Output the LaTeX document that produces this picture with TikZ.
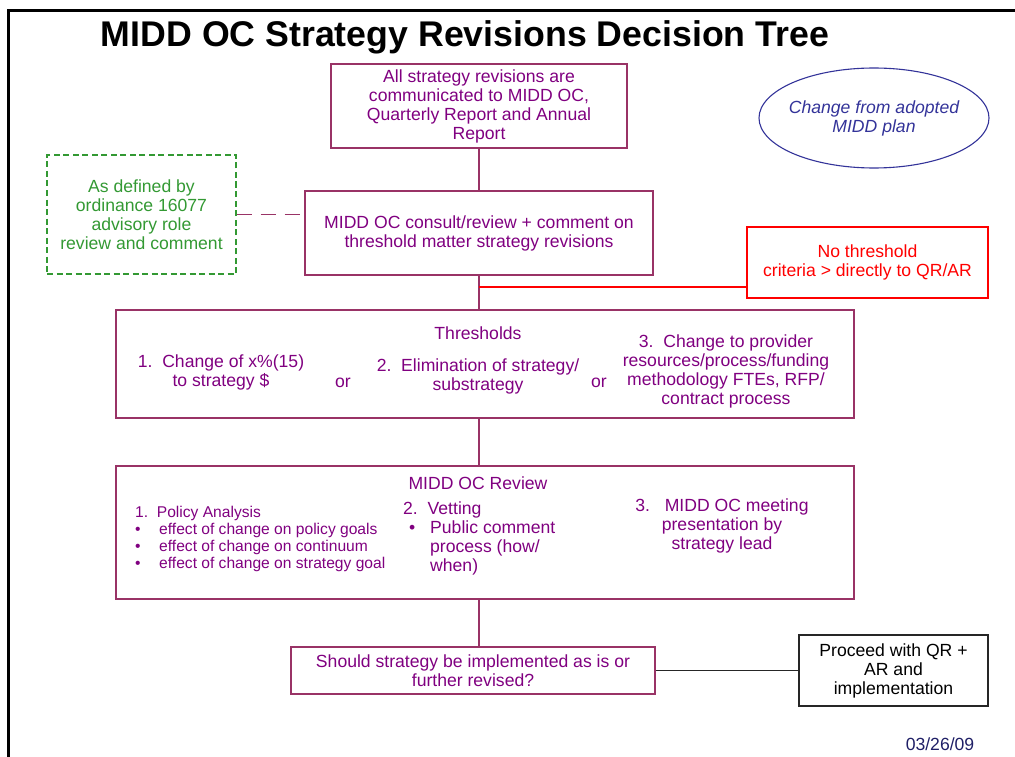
\documentclass[tikz,border=0pt]{standalone}
\usepackage{fontspec}
\setmainfont{Liberation Sans}
\usepackage{tikz}
\usetikzlibrary{positioning, shapes.geometric}
\definecolor{plum}{HTML}{993366}
\definecolor{purp}{HTML}{800080}
\definecolor{grn}{HTML}{339933}
\definecolor{navy}{HTML}{333399}
\definecolor{datecol}{HTML}{1F1F66}
\tikzset{% 
	link/.style = {draw = plum, line width = 1.3pt},
	box/.style = {name = #1, draw = plum, line width = 1.3pt, text = purp, align = center, inner sep = 3pt},
	redbox/.style = {name = #1, draw = red, line width = 1.3pt, text = red, align = center, inner sep = 3pt},
	dashbox/.style = {name = #1, draw = grn, dash pattern = on 6pt off 3.5pt, line width = 1.3pt, text = grn, align = center, inner sep = 3pt},
	blackbox/.style = {name = #1, draw = black!85, line width = 1.3pt, text = black, align = center, inner sep = 3pt},
	oval/.style = {name = #1, ellipse, draw = navy, line width = 1.1pt, text = navy, align = center, inner xsep = -5pt, inner ysep = 0pt},
	note/.style = {name = #1, text = purp, align = center, inner sep = 0pt},
	small/.style = {font = \fontsize{15.6}{17}\selectfont}
}

\begin{document}
\begin{tikzpicture}[x=1pt, y=-1pt, font=\fontsize{17.6}{19}\selectfont]
			\useasboundingbox (0,0) rectangle (1015,757);
			\draw [line width = 3pt] (8,757) -- (8,11) -- (1015,11);
			\node [name = title, font = \fontsize{35.7}{40}\selectfont\bfseries] at (465,37) {MIDD OC Strategy Revisions Decision Tree};
			% upper part
			\node [box = {rev}, minimum width = 296pt, minimum height = 84pt] at (479,106) {All strategy revisions are\\communicated to MIDD OC,\\Quarterly Report and Annual\\Report};
			\node [oval = {plan}, minimum width = 230pt, minimum height = 100pt] at (874,118) {\itshape Change from adopted\\\itshape MIDD plan};
			\node [dashbox = {role}, minimum width = 189pt, minimum height = 119pt] at (141.5,214.5) {As defined by\\ordinance 16077\\advisory role\\review and comment};
			\node [box = {consult}, minimum width = 348pt, minimum height = 84pt] at (479,233) {MIDD OC consult/review + comment on\\threshold matter strategy revisions};
			\node [redbox = {direct}, minimum width = 241pt, minimum height = 71pt] at (867.5,262.5) {No threshold\\criteria > directly to QR/AR};
			\coordinate (fork) at (479,287);
			% thresholds
			\node [box = {thr}, minimum width = 738pt, minimum height = 108pt] at (485,364) {};
			\node [note = {thrhead}] at (478,333) {Thresholds};
			\node [note = {thr1}] at (221,372.5) {1.\ \ Change of x\%(15)\\to strategy \$};
			\node [note = {or1}] at (343,383) {or};
			\node [note = {thr2}] at (478,376.5) {2.\ \ Elimination of strategy/\\substrategy};
			\node [note = {or2}] at (599,383) {or};
			\node [note = {thr3}] at (726,371.5) {3.\ \ Change to provider\\resources/process/funding\\methodology FTEs, RFP/\\contract process};
			% review
			\node [box = {rvw}, minimum width = 738pt, minimum height = 133pt] at (485,532.5) {};
			\node [note = {rvwhead}] at (478,483) {MIDD OC Review};
			\node [note = {rvw1}, small, align = left, anchor = west] at (135,539) {1.\ \ Policy Analysis\\\makebox[24pt][l]{\textbullet}effect of change on policy goals\\\makebox[24pt][l]{\textbullet}effect of change on continuum\\\makebox[24pt][l]{\textbullet}effect of change on strategy goal};
			\node [note = {rvw2}, align = left, anchor = west] at (403,538.5) {2.\ \ Vetting\\\makebox[27pt][l]{\hspace{6pt}\textbullet}Public comment\\\hspace*{27pt}process (how/\\\hspace*{27pt}when)};
			\node [note = {rvw3}] at (722,526) {3.\ \ \ MIDD OC meeting\\presentation by\\strategy lead};
			% bottom
			\node [box = {dec}, minimum width = 364pt, minimum height = 47pt] at (473,670.5) {Should strategy be implemented as is or\\further revised?};
			\node [blackbox = {go}, minimum width = 189pt, minimum height = 71pt] at (893.5,670.5) {Proceed with QR +\\AR and\\implementation};
			\node [name = date, text = datecol] at (940,744) {03/26/09};
			\path [link] (rev.south) edge (rev.south |- consult.north);
			\path [link] (consult.south) edge (consult.south |- thr.north);
			\path [link] (thr.south -| consult.south) edge (rvw.north -| consult.south);
			\path [link] (rvw.south -| consult.south) edge (dec.north -| consult.south);
			\path [link, dash pattern = on 15pt off 9pt] (role.east) edge (role.east -| consult.west);
			\path [draw = red, line width = 1.3pt] (fork) edge (fork -| direct.west);
			\path [draw = black!85, line width = 1.3pt] (dec.east) edge (go.west);
			\end{tikzpicture}
\end{document}
